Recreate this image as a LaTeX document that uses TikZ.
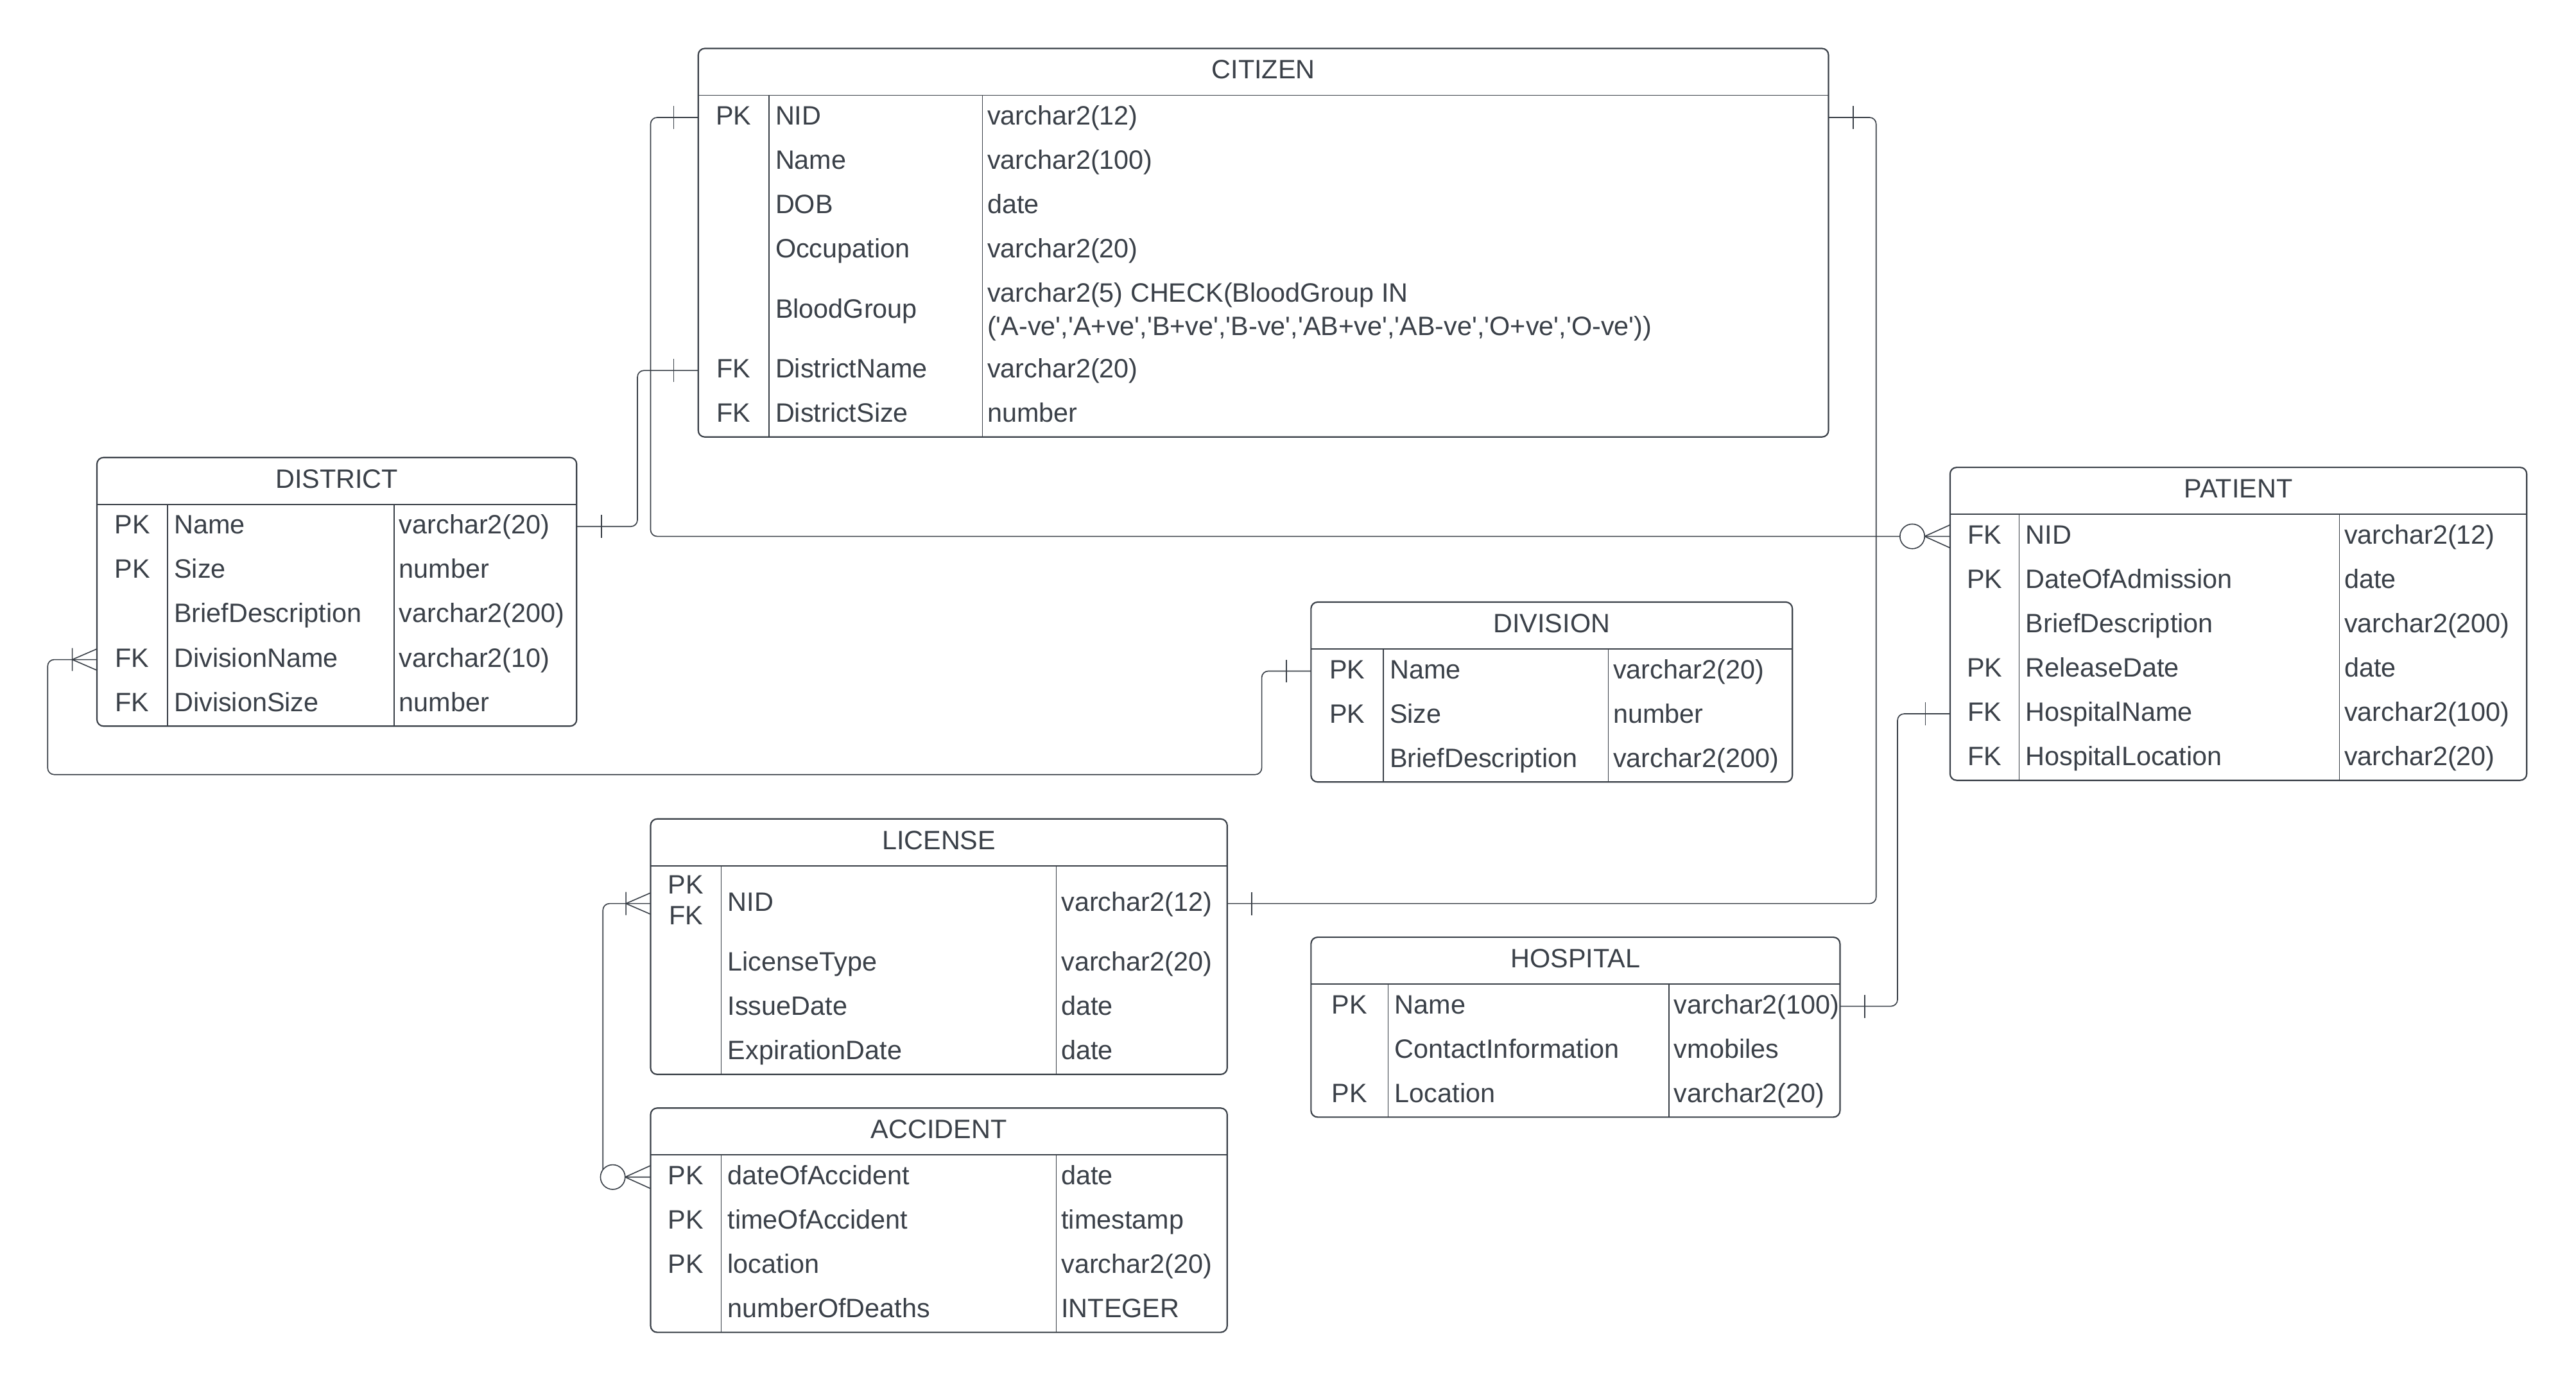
\documentclass[tikz,border=0pt]{standalone}
\usepackage{fontspec}
\setmainfont{Liberation Sans}[Ligatures=TeXOff]
\usetikzlibrary{calc}
\definecolor{ink}{RGB}{58,64,72}
\newcommand\pxu{0.025cm}

% table frame: name, left, right, header line y, bottom y, divider A x, divider B x, title
\newcommand\ertable[8]{%
  \def\tL{#2}\def\tR{#3}\def\dA{#6}\def\dB{#7}%
  \node[tablebox, minimum width={(#3-#2)*\pxu}, minimum height={(#5-#4+28.5)*\pxu}] (#1) at (#2,#4-28.5) {};
  \node[titletxt] (#1-title) at ({(#2+#3)/2},{#4-10}) {#8};
  \draw[divline] (#2,#4) -- (#3,#4);
  \draw[divline] (#6,#4) -- (#6,#5);
  \draw[divline] (#7,#4) -- (#7,#5);
}
% table row: name, top y, height, key, field, type
\newcommand\errow[6]{%
  \node[rowspan, minimum width={(\tR-\tL)*\pxu}, minimum height={#3*\pxu}] (#1) at (\tL,#2) {};
  \node[keytxt] (#1-k) at ({(\tL+\dA)/2},{#2+#3/2+4.5}) {#4};
  \node[fldtxt] (#1-f) at ({\dA+4},{#2+#3/2+4.5}) {#5};
  \node[fldtxt] (#1-t) at ({\dB+3},{#2+#3/2+4.5}) {#6};
}

\begin{document}
\begin{tikzpicture}[x=0.025cm, y=-0.025cm,
  every node/.style={inner sep=0pt, outer sep=0pt},
  txt/.style={font=\fontsize{11.5}{13.8}\selectfont, text=ink},
  keytxt/.style={txt, anchor=base},
  fldtxt/.style={txt, anchor=base west},
  titletxt/.style={txt, anchor=base},
  tablebox/.style={draw=ink, line width=0.6pt, rounded corners=0.1cm, anchor=north west},
  rowspan/.style={anchor=north west},
  divline/.style={draw=ink, line width=0.45pt},
  conn/.style={draw=ink, line width=0.45pt, rounded corners=0.1cm},
  tick/.style={draw=ink, line width=0.45pt},
  onebar/.pic={\draw[tick] (15,-7) -- (15,7);},
  onemany/.pic={\draw[tick] (15,-7) -- (15,7) (0,-6.5) -- (15,0) -- (0,6.5);},
  zeromany/.pic={\draw[tick] (0,-7) -- (15.5,0) -- (0,7);
                 \draw[tick, fill=white] (23,0) circle[radius=7.5];},
]
\useasboundingbox (0,0) rectangle (1568,841);

% CITIZEN
\ertable{citizen}{425}{1113}{58}{266}{468}{598}{CITIZEN}
\errow{cit-nid}{58}{27}{PK}{NID}{varchar2(12)}
\errow{cit-name}{85}{27}{}{Name}{varchar2(100)}
\errow{cit-dob}{112}{27}{}{DOB}{date}
\errow{cit-occ}{139}{27}{}{Occupation}{varchar2(20)}
\errow{cit-blood}{166}{46}{}{BloodGroup}{}
\node[fldtxt] (cit-blood-t1) at (601,184) {varchar2(5) CHECK(BloodGroup IN};
\node[fldtxt] (cit-blood-t2) at (601,204) {('A-ve','A+ve','B+ve','B-ve','AB+ve','AB-ve','O+ve','O-ve'))};
\errow{cit-dname}{212}{27}{FK}{DistrictName}{varchar2(20)}
\errow{cit-dsize}{239}{27}{FK}{DistrictSize}{number}

% DISTRICT
\ertable{district}{59}{351}{307}{442}{102}{240}{DISTRICT}
\errow{dist-name}{307}{27}{PK}{Name}{varchar2(20)}
\errow{dist-size}{334}{27}{PK}{Size}{number}
\errow{dist-brief}{361}{27}{}{BriefDescription}{varchar2(200)}
\errow{dist-dvname}{388}{27}{FK}{DivisionName}{varchar2(10)}
\errow{dist-dvsize}{415}{27}{FK}{DivisionSize}{number}

% DIVISION
\ertable{division}{798}{1091}{395}{476}{842}{979}{DIVISION}
\errow{div-name}{395}{27}{PK}{Name}{varchar2(20)}
\errow{div-size}{422}{27}{PK}{Size}{number}
\errow{div-brief}{449}{27}{}{BriefDescription}{varchar2(200)}

% PATIENT
\ertable{patient}{1187}{1538}{313}{475}{1229}{1424}{PATIENT}
\errow{pat-nid}{313}{27}{FK}{NID}{varchar2(12)}
\errow{pat-doa}{340}{27}{PK}{DateOfAdmission}{date}
\errow{pat-brief}{367}{27}{}{BriefDescription}{varchar2(200)}
\errow{pat-rdate}{394}{27}{PK}{ReleaseDate}{date}
\errow{pat-hname}{421}{27}{FK}{HospitalName}{varchar2(100)}
\errow{pat-hloc}{448}{27}{FK}{HospitalLocation}{varchar2(20)}

% LICENSE
\ertable{license}{396}{747}{527}{654}{439}{643}{LICENSE}
\errow{lic-nid}{527}{46}{}{NID}{varchar2(12)}
\node[keytxt] (lic-nid-pk) at (417.5,544) {PK};
\node[keytxt] (lic-nid-fk) at (417.5,563) {FK};
\errow{lic-type}{573}{27}{}{LicenseType}{varchar2(20)}
\errow{lic-issue}{600}{27}{}{IssueDate}{date}
\errow{lic-exp}{627}{27}{}{ExpirationDate}{date}

% HOSPITAL
\ertable{hospital}{798}{1120}{599}{680}{845}{1016}{HOSPITAL}
\errow{hos-name}{599}{27}{PK}{Name}{varchar2(100)}
\errow{hos-contact}{626}{27}{}{ContactInformation}{vmobiles}
\errow{hos-loc}{653}{27}{PK}{Location}{varchar2(20)}

% ACCIDENT
\ertable{accident}{396}{747}{703}{811}{439}{643}{ACCIDENT}
\errow{acc-date}{703}{27}{PK}{dateOfAccident}{date}
\errow{acc-time}{730}{27}{PK}{timeOfAccident}{timestamp}
\errow{acc-loc}{757}{27}{PK}{location}{varchar2(20)}
\errow{acc-deaths}{784}{27}{}{numberOfDeaths}{INTEGER}

% relationships
\draw[conn] (cit-nid.east) -- ++(29,0) |- (lic-nid.east);
\draw[conn] (cit-nid.west) -- ++(-29,0) |- (pat-nid.west);
\draw[conn] (dist-name.east) -- ++(37,0) |- (cit-dname.west);
\draw[conn] (div-name.west) -- ++(-30,0) |- ($(dist-dvname.west)+(-30,70)$) |- (dist-dvname.west);
\draw[conn] (pat-hname.west) -- ++(-32,0) |- (hos-name.east);
\draw[conn] (lic-nid.west) -- ++(-29,0) |- (acc-date.west);

% cardinality marks
\pic at (cit-nid.east) {onebar};
\pic at (lic-nid.east) {onebar};
\pic[rotate=180] at (cit-nid.west) {onebar};
\pic[rotate=180] at (pat-nid.west) {zeromany};
\pic at (dist-name.east) {onebar};
\pic[rotate=180] at (cit-dname.west) {onebar};
\pic[rotate=180] at (div-name.west) {onebar};
\pic[rotate=180] at (dist-dvname.west) {onemany};
\pic[rotate=180] at (pat-hname.west) {onebar};
\pic at (hos-name.east) {onebar};
\pic[rotate=180] at (lic-nid.west) {onemany};
\pic[rotate=180] at (acc-date.west) {zeromany};
\end{tikzpicture}
\end{document}
